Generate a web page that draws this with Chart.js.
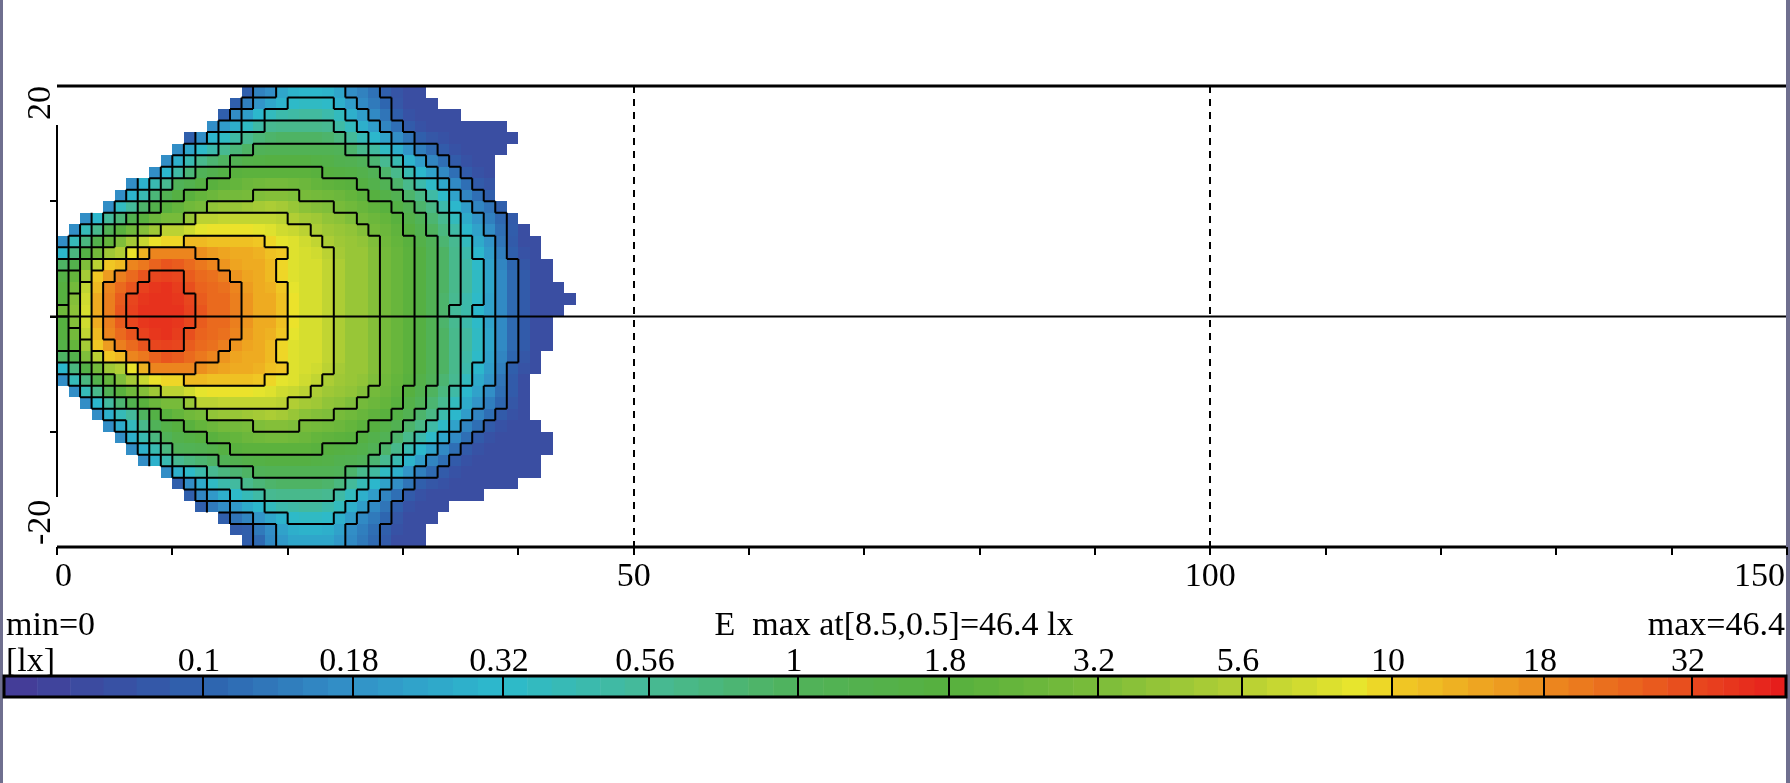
<!DOCTYPE html>
<html>
<head>
<meta charset="utf-8">
<script src="https://cdn.jsdelivr.net/npm/chart.js@4/dist/chart.umd.min.js"></script>
<style>
  html, body { margin: 0; padding: 0; background: #fff; }
  canvas { display: block; }
</style>
</head>
<body>
<canvas id="chart" width="1790" height="783"></canvas>
<script>
// illuminance bands per 1 m cell.
// row 0 is y 19..20, last row is y -20..-19; cell i is x i..i+1
// '.' = no value, 0..9,a,b = band index between the iso levels below
const gridRows = [
  '................ 0 11 222222 111 0000',
  '............... 0 1 222 3333 22 111 0000',
  '.............. 0 1 22 3333333 22 11 000000',
  '............. 1 22 33 444444 33 22 11 000000000',
  '........... 0 1 2 33 444444444 33 22 11 000000000',
  '.......... 1 2 33 444 55555555 44 33 22 11 000000',
  '......... 1 2 3 444 555555555555 44 3 22 11 0000',
  '........ 1 2 3 4 555 66666666 55555 44 3 22 11 000',
  '...... 1 2 3 4 555 6666666666666 555 44 33 2 11 00',
  '..... 1 2 3 4 55 666666 7777 666666 555 44 33 2 11 0',
  '.... 1 33 4 5 6666 77777777777 66666 55 44 3 22 11 0',
  '.. 1 2 3 4 5 6666 7 88888888 777777 6666 55 44 3 22 11 0',
  '. 1 3 4 5 66 77 8888888888888 77777 666 55 44 3 22 11 00',
  '1 3 4 5 6 77 8888 9999999 88888 77777 666 55 44 3 22 1 000',
  '2 4 5 6 77 8 9 aaaa 99999999 8888 7777 666 55 44 3 22 1 000',
  '4 5 7 8 99 aaaaaaaa 99999 88888 7777 666 55 44 33 2 11 000',
  '5 6 7 99 aaa bbb aaaa 9999 88888 7777 666 55 44 33 2 11 000',
  '5 6 8 9 aaa bbbb aaaaa 9999 8888 7777 666 55 44 33 2 11 0000',
  '5 7 8 9 aa bbbbbb aaaa 9999 8888 7777 666 55 44 33 2 11 00000',
  '6 7 8 9 aa bbbbbb aaaa 9999 8888 7777 666 55 4 33 22 11 0000',
  '5 7 8 9 aa bbbbbb aaaa 9999 8888 7777 666 55 44 33 2 11 000',
  '5 6 8 9 aaa bbbb aaaaa 9999 8888 7777 666 55 44 33 2 11 000',
  '5 6 7 99 aaa bbb aaaa 9999 88888 7777 666 55 44 33 2 11 000',
  '4 5 7 8 99 aaaaaaaa 99999 88888 7777 666 55 44 33 2 11 00',
  '2 4 5 6 77 8 9 aaaa 99999999 8888 7777 666 55 44 3 22 1 000',
  '1 3 4 5 6 77 8888 9999999 88888 77777 666 55 44 3 22 1 00',
  '. 1 3 4 5 66 77 8888888888888 77777 666 55 44 3 22 11 00',
  '.. 1 2 3 4 5 6666 7 88888888 777777 6666 55 44 3 22 11 00',
  '... 1 2 33 4 5 6666 77777777777 66666 55 44 3 22 11 000',
  '.... 1 2 3 4 555 666666 7777 666666 555 44 33 2 11 00000',
  '..... 1 2 3 4 5555 6666666666666 555 44 33 2 11 0000000',
  '...... 1 2 3 4 55555 66666666 55555 44 3 22 11 00000000',
  '....... 1 2 3 4444 5555555555555 44 3 22 11 00000000',
  '......... 1 2 33 4444 55555555 44 33 22 11 000000000',
  '.......... 0 1 2 333 444444444 33 22 11 000000000',
  '........... 0 1 22 333 444444 33 22 11 0000000',
  '............ 0 11 222 3333333 22 11 00000',
  '.............. 0 11 222 3333 22 111 0000',
  '............... 00 11 222222 111 0000',
  '................ 0 11 222222 111 0000'
]
const gridTopY = 20

const isoLevels = ['0.1', '0.18', '0.32', '0.56', '1', '1.8', '3.2', '5.6', '10', '18', '32']
const xTickLabels = [0, 50, 100, 150]
const xMinorTicks = [0, 10, 20, 30, 40, 50, 60, 70, 80, 90, 100, 110, 120, 130, 140, 150]
const yTickLabels = [20, -20]
const yMinorTicks = [10, 0, -10]
const eMin = 0
const eMax = 46.4
const eMaxAt = [8.5, 0.5]

// colour along the band axis (0..12)
const cmap = [
  [0, [70, 58, 150]], [1, [46, 98, 174]], [2, [50, 146, 200]], [3, [44, 186, 204]],
  [4, [70, 186, 150]], [5, [80, 178, 90]], [6, [86, 176, 62]], [7, [122, 188, 58]],
  [8, [182, 208, 52]], [8.8, [234, 230, 44]], [9, [240, 204, 36]], [10, [236, 138, 30]],
  [11, [232, 74, 30]], [12, [230, 26, 28]]
]

function colorAt(v) {
  for (let i = 1; i < cmap.length; i++) {
    if (v <= cmap[i][0]) {
      const a = cmap[i - 1], b = cmap[i]
      const t = (v - a[0]) / (b[0] - a[0])
      const c = a[1].map((ch, k) => Math.round(ch + (b[1][k] - ch) * t))
      return `rgb(${c[0]},${c[1]},${c[2]})`
    }
  }
  const c = cmap[cmap.length - 1][1]
  return `rgb(${c[0]},${c[1]},${c[2]})`
}

const grid = gridRows.map(r => r.replace(/ /g, '').split('').map(ch => ch === '.' ? null : parseInt(ch, 16)))
const bandAt = (r, i) => (grid[r] && grid[r][i] != null) ? grid[r][i] : null

const FONT = '34px "Liberation Serif", "DejaVu Serif", serif'

const heatmapPlugin = {
  id: 'heatmap',
  beforeDatasetsDraw(chart) {
    const { ctx, scales: { x, y } } = chart
    // cells
    grid.forEach((row, r) => {
      row.forEach((b, i) => {
        if (b == null) return
        let sum = 0, n = 0
        for (let dr = -1; dr <= 1; dr++) for (let di = -1; di <= 1; di++) {
          const nb = bandAt(r + dr, i + di)
          if (nb != null) { sum += nb; n++ }
        }
        const v = Math.min(b + 0.92, Math.max(b + 0.08, sum / n + 0.5))
        const x0 = Math.round(x.getPixelForValue(i)), x1 = Math.round(x.getPixelForValue(i + 1))
        const y0 = Math.round(y.getPixelForValue(gridTopY - r)), y1 = Math.round(y.getPixelForValue(gridTopY - r - 1))
        ctx.fillStyle = colorAt(v)
        ctx.fillRect(x0, y0, x1 - x0, y1 - y0)
      })
    })
    // iso lines on band changes
    ctx.save()
    ctx.strokeStyle = '#000'
    ctx.lineWidth = 2
    ctx.beginPath()
    grid.forEach((row, r) => {
      row.forEach((b, i) => {
        if (b == null) return
        const right = bandAt(r, i + 1), below = bandAt(r + 1, i)
        if (right != null && right !== b) {
          const px = x.getPixelForValue(i + 1)
          ctx.moveTo(px, y.getPixelForValue(gridTopY - r))
          ctx.lineTo(px, y.getPixelForValue(gridTopY - r - 1))
        }
        if (below != null && below !== b) {
          const py = y.getPixelForValue(gridTopY - r - 1)
          ctx.moveTo(x.getPixelForValue(i), py)
          ctx.lineTo(x.getPixelForValue(i + 1), py)
        }
      })
    })
    ctx.stroke()
    ctx.restore()
  },
  afterDraw(chart) {
    const { ctx, scales: { x, y } } = chart
    const left = x.getPixelForValue(0), right = x.getPixelForValue(150)
    const top = y.getPixelForValue(20), bottom = y.getPixelForValue(-20), zero = y.getPixelForValue(0)
    ctx.save()
    // page frame
    ctx.fillStyle = '#6f6f8f'
    ctx.fillRect(0, 0, 3, 783)
    ctx.fillRect(1786, 0, 4, 783)

    ctx.strokeStyle = '#000'
    ctx.lineWidth = 3
    ctx.beginPath()
    ctx.moveTo(left, top); ctx.lineTo(1786, top)
    ctx.moveTo(left, bottom); ctx.lineTo(1786, bottom)
    ctx.stroke()
    ctx.lineWidth = 2
    ctx.beginPath()
    ctx.moveTo(left - 7, zero); ctx.lineTo(1786, zero)
    ctx.moveTo(left, top + 39); ctx.lineTo(left, bottom - 50)
    yMinorTicks.forEach(v => {
      const py = Math.round(y.getPixelForValue(v))
      ctx.moveTo(left - 7, py); ctx.lineTo(left, py)
    })
    xMinorTicks.forEach(v => {
      const px = Math.round(x.getPixelForValue(v))
      ctx.moveTo(px, bottom); ctx.lineTo(px, bottom + 8)
    })
    ctx.stroke()

    ctx.setLineDash([7, 6])
    ctx.beginPath()
    ;[50, 100].forEach(v => {
      const px = Math.round(x.getPixelForValue(v))
      ctx.moveTo(px, top); ctx.lineTo(px, bottom)
    })
    ctx.stroke()
    ctx.setLineDash([])

    // tick labels
    ctx.fillStyle = '#000'
    ctx.font = FONT
    ctx.textBaseline = 'alphabetic'
    xTickLabels.forEach(v => {
      const s = String(v)
      const w = ctx.measureText(s).width
      let px = x.getPixelForValue(v) - w / 2
      px = Math.max(55, Math.min(1785 - w, px))
      ctx.textAlign = 'left'
      ctx.fillText(s, px, 586)
    })
    yTickLabels.forEach(v => {
      ctx.save()
      const py = v > 0 ? top + 34 : bottom - 2
      ctx.translate(50, py)
      ctx.rotate(-Math.PI / 2)
      ctx.textAlign = 'left'
      ctx.fillText(String(v), 0, 0)
      ctx.restore()
    })

    // summary line
    ctx.textAlign = 'left'
    ctx.fillText('min=' + eMin, 6, 635)
    ctx.textAlign = 'center'
    ctx.fillText('E  max at[' + eMaxAt[0] + ',' + eMaxAt[1] + ']=' + eMax + ' lx', 894, 635)
    ctx.textAlign = 'right'
    ctx.fillText('max=' + eMax, 1785, 635)

    // colour bar
    const edges = [4, 203, 353, 503, 649, 798, 949, 1098, 1242, 1392, 1544, 1692, 1786]
    const barTop = 677, barBot = 696
    for (let b = 0; b < edges.length - 1; b++) {
      const steps = 6
      const w = (edges[b + 1] - edges[b]) / steps
      for (let s = 0; s < steps; s++) {
        ctx.fillStyle = colorAt(b + (s + 0.5) / steps)
        ctx.fillRect(edges[b] + s * w, barTop, w + 0.5, barBot - barTop)
      }
    }
    ctx.strokeStyle = '#000'
    ctx.lineWidth = 3
    ctx.strokeRect(edges[0], barTop - 1, edges[edges.length - 1] - edges[0], barBot - barTop + 2)
    ctx.lineWidth = 2
    ctx.beginPath()
    for (let b = 1; b < edges.length - 1; b++) {
      ctx.moveTo(edges[b], barTop); ctx.lineTo(edges[b], barBot)
    }
    ctx.stroke()
    ctx.fillStyle = '#000'
    ctx.textAlign = 'left'
    ctx.fillText('[lx]', 6, 671)
    ctx.textAlign = 'center'
    isoLevels.forEach((lab, k) => ctx.fillText(lab, edges[k + 1] - 4, 671))
    ctx.restore()
  }
}

new Chart(document.getElementById('chart'), {
  type: 'scatter',
  data: { datasets: [{ data: [], pointRadius: 0 }] },
  options: {
    responsive: false,
    animation: false,
    devicePixelRatio: 1,
    layout: { padding: { left: 57, right: 3, top: 86, bottom: 236 } },
    plugins: { legend: { display: false }, tooltip: { enabled: false } },
    scales: {
      x: { type: 'linear', min: 0, max: 150, display: false },
      y: { type: 'linear', min: -20, max: 20, display: false }
    }
  },
  plugins: [heatmapPlugin]
})
</script>
</body>
</html>
